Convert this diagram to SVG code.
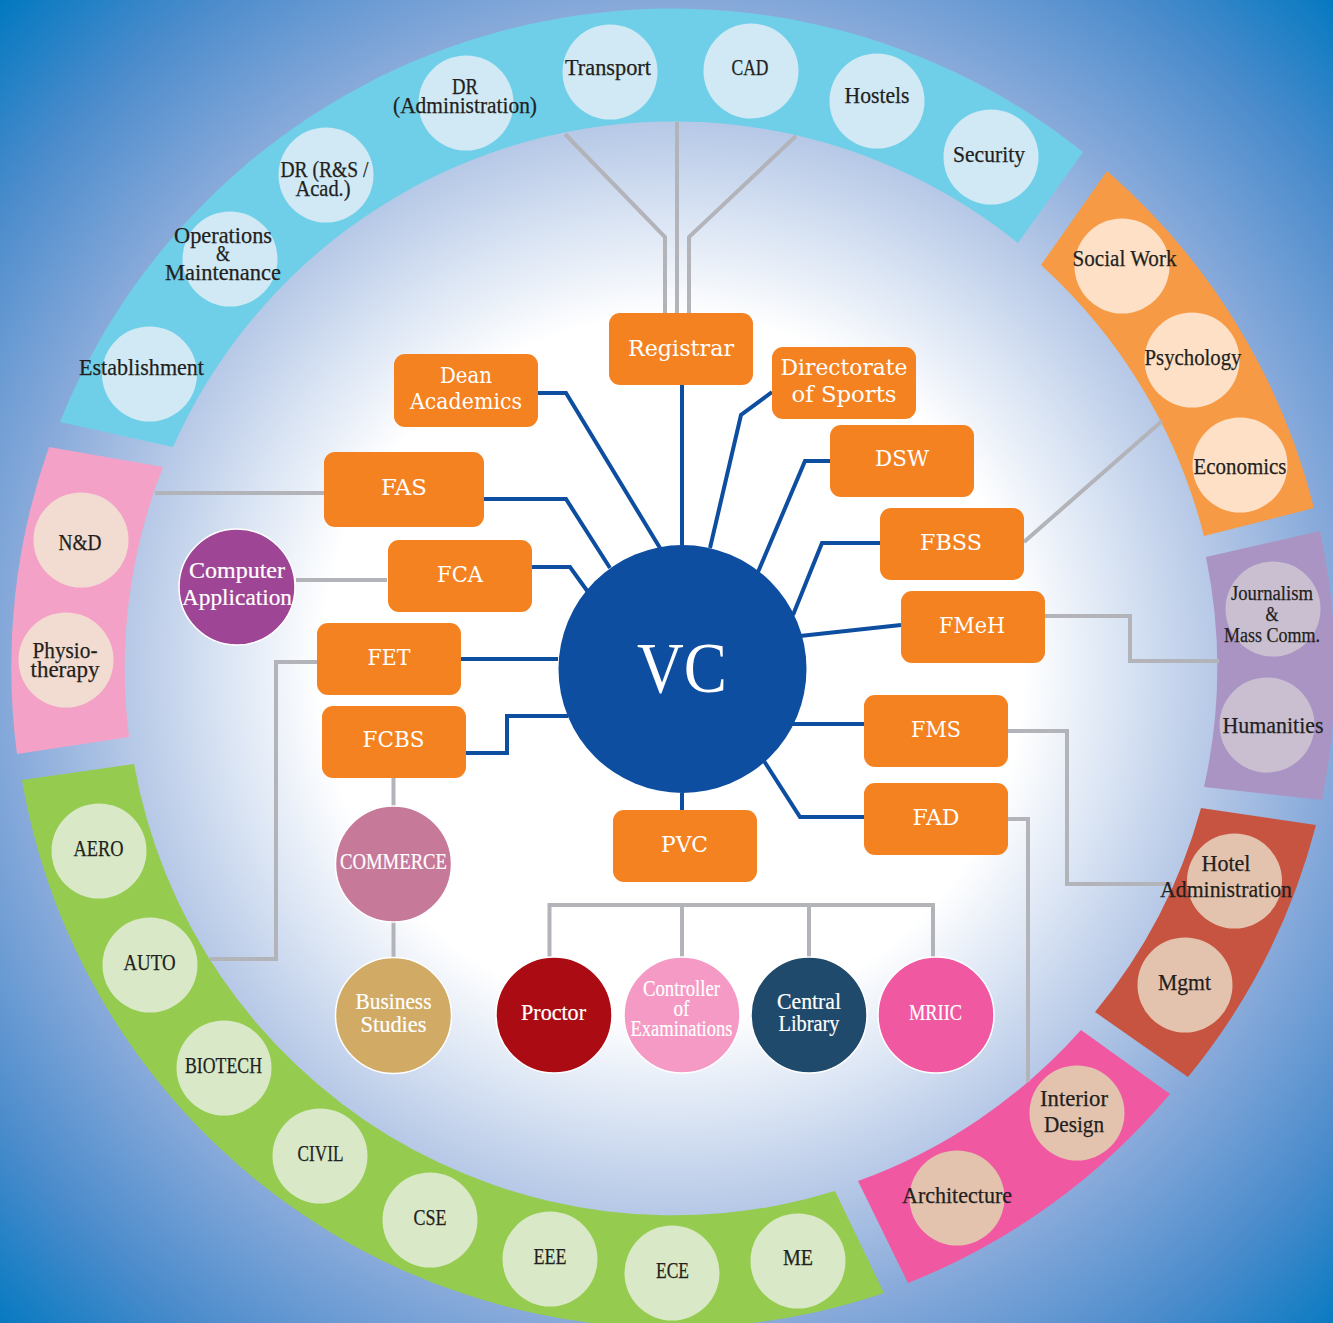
<svg xmlns="http://www.w3.org/2000/svg" width="1333" height="1323" viewBox="0 0 1333 1323">
<style>
text{font-family:"Liberation Serif","DejaVu Serif",serif;text-anchor:middle}
.d{font-size:23px;fill:#231f20;stroke:#231f20;stroke-width:.25}
.w{font-size:23px;fill:#fff;stroke:#fff;stroke-width:.2}
.b{font-family:"DejaVu Serif","Liberation Serif",serif;font-size:22px;fill:#fff}
.o{fill:#f58220}
.g{fill:none;stroke:#b3b3ba;stroke-width:4}
.l{fill:none;stroke:#0d4ea0;stroke-width:4}
.s{stroke:#fff;stroke-width:1.5}
.cb{fill:#d0e9f5}.co{fill:#fde0c6}.cp{fill:#c9bfd1}.cr{fill:#e3c3ae}.cg{fill:#d9e9c8}.cn{fill:#f2dcd1}
</style>
<defs>
<radialGradient id="bg" gradientUnits="userSpaceOnUse" cx="672" cy="668" r="950">
<stop offset="0" stop-color="#fff"/><stop offset="0.37" stop-color="#fff"/><stop offset="0.47" stop-color="#dbe5f4"/><stop offset="0.58" stop-color="#b4c7e6"/><stop offset="0.70" stop-color="#86a9da"/><stop offset="0.85" stop-color="#4c8ccc"/><stop offset="1" stop-color="#0078c0"/>
</radialGradient>
</defs>
<rect width="1333" height="1323" fill="url(#bg)"/>
<g id="bands">
<path fill="#70cfe8" d="M60 422A660 660 0 0 1 1083 152L1018 243A548 548 0 0 0 173 447Z"/>
<path fill="#f79a45" d="M1107 171A660 660 0 0 1 1314 508L1204 536A548 548 0 0 0 1041 265Z"/>
<path fill="#aa94c4" d="M1206 557L1320 531A660 660 0 0 1 1322 800L1204 787A548 548 0 0 0 1206 557Z"/>
<path fill="#c65441" d="M1201 808L1316 825A660 660 0 0 1 1188 1077L1095 1012A548 548 0 0 0 1201 808Z"/>
<path fill="#f058a2" d="M1081 1030L1170 1094A660 660 0 0 1 908 1283L858 1181A548 548 0 0 0 1081 1030Z"/>
<path fill="#95cb4e" d="M22 780L134 764A548 548 0 0 0 835 1191L884 1293A660 660 0 0 1 22 780Z"/>
<path fill="#f4a1c8" d="M49 447L163 467A548 548 0 0 0 129 737L17 754A660 660 0 0 1 49 447Z"/>
</g>
<g id="connectors">
<path class="g" d="M565 134L665 237V313M677 122V313M796 136L689 237V313M155 493H324M296 580H387M317 662H276V959H210M393.5 778V806M393.5 921V958M549.5 957V905H933V957M682 905V957M809 905V957M1024 542L1162 421M1045 616H1130V661H1219M1008 731H1067V884H1172M1008 819H1028V1082"/>
<path class="l" d="M538 393H566L660 548M682 385V545M772 392L741 415L710 548M830 461H805L758 572M880 543H822L793 615M901 625L800 636M864 724H790M864 817H800L764 761M682 793V810M466 753H507V716H568M461 659H558M532 567H570L588 592M484 499H566L610 568"/>
</g>
<g id="vc"><circle cx="682.500" cy="669" r="124" fill="#0d4ea0"/><text x="682" y="692" font-size="72" fill="#fff" textLength="90" lengthAdjust="spacingAndGlyphs">VC</text></g>
<g id="registrar"><rect class="o" x="609" y="313" width="144" height="72" rx="11"/><text class="b" x="681" y="356" textLength="106" lengthAdjust="spacingAndGlyphs">Registrar</text></g>
<g id="dean"><rect class="o" x="394" y="354" width="144" height="73" rx="11"/><text class="b" x="466" y="383" textLength="52" lengthAdjust="spacingAndGlyphs">Dean</text><text class="b" x="466" y="409" textLength="112" lengthAdjust="spacingAndGlyphs">Academics</text></g>
<g id="sports"><rect class="o" x="772" y="347" width="144" height="72" rx="11"/><text class="b" x="844" y="375" textLength="127" lengthAdjust="spacingAndGlyphs">Directorate</text><text class="b" x="844" y="402" textLength="105" lengthAdjust="spacingAndGlyphs">of Sports</text></g>
<g id="dsw"><rect class="o" x="830" y="425" width="144" height="72" rx="11"/><text class="b" x="902" y="466" textLength="54" lengthAdjust="spacingAndGlyphs">DSW</text></g>
<g id="fas"><rect class="o" x="324" y="452" width="160" height="75" rx="11"/><text class="b" x="404" y="495" textLength="46" lengthAdjust="spacingAndGlyphs">FAS</text></g>
<g id="fbss"><rect class="o" x="880" y="508" width="144" height="72" rx="11"/><text class="b" x="951" y="550" textLength="62" lengthAdjust="spacingAndGlyphs">FBSS</text></g>
<g id="fca"><rect class="o" x="388" y="540" width="144" height="72" rx="11"/><text class="b" x="460" y="582" textLength="46" lengthAdjust="spacingAndGlyphs">FCA</text></g>
<g id="fmeh"><rect class="o" x="901" y="591" width="144" height="72" rx="11"/><text class="b" x="972" y="633" textLength="66" lengthAdjust="spacingAndGlyphs">FMeH</text></g>
<g id="fet"><rect class="o" x="317" y="623" width="144" height="72" rx="11"/><text class="b" x="389" y="665" textLength="43" lengthAdjust="spacingAndGlyphs">FET</text></g>
<g id="fcbs"><rect class="o" x="322" y="706" width="144" height="72" rx="11"/><text class="b" x="393.500" y="747" textLength="62" lengthAdjust="spacingAndGlyphs">FCBS</text></g>
<g id="fms"><rect class="o" x="864" y="695" width="144" height="72" rx="11"/><text class="b" x="936" y="737" textLength="50" lengthAdjust="spacingAndGlyphs">FMS</text></g>
<g id="fad"><rect class="o" x="864" y="783" width="144" height="72" rx="11"/><text class="b" x="936" y="825" textLength="47" lengthAdjust="spacingAndGlyphs">FAD</text></g>
<g id="pvc"><rect class="o" x="613" y="810" width="144" height="72" rx="11"/><text class="b" x="684.500" y="852" textLength="47" lengthAdjust="spacingAndGlyphs">PVC</text></g>
<g id="computer"><circle class="s" cx="237" cy="587" r="58" fill="#9e4595"/><text class="w" x="237" y="578" textLength="96" lengthAdjust="spacingAndGlyphs">Computer</text><text class="w" x="237" y="605" textLength="110" lengthAdjust="spacingAndGlyphs">Application</text></g>
<g id="commerce"><circle class="s" cx="393.500" cy="864" r="58" fill="#c7799a"/><text class="w" x="393.500" y="869" textLength="107" lengthAdjust="spacingAndGlyphs">COMMERCE</text></g>
<g id="business"><circle class="s" cx="393.500" cy="1015.500" r="58" fill="#d1ab66"/><text class="w" x="393.500" y="1009" textLength="76" lengthAdjust="spacingAndGlyphs">Business</text><text class="w" x="393.500" y="1032" textLength="66" lengthAdjust="spacingAndGlyphs">Studies</text></g>
<g id="proctor"><circle class="s" cx="554" cy="1015" r="58" fill="#ab0c14"/><text class="w" x="553.500" y="1020" textLength="65" lengthAdjust="spacingAndGlyphs">Proctor</text></g>
<g id="controller"><circle class="s" cx="682" cy="1015" r="58" fill="#f59ac4"/><text class="w" x="681.500" y="996" textLength="77" lengthAdjust="spacingAndGlyphs">Controller</text><text class="w" x="681.500" y="1016" textLength="16" lengthAdjust="spacingAndGlyphs">of</text><text class="w" x="681.500" y="1036" textLength="102" lengthAdjust="spacingAndGlyphs">Examinations</text></g>
<g id="library"><circle class="s" cx="809" cy="1015" r="58" fill="#1f4a6b"/><text class="w" x="809" y="1009" textLength="64" lengthAdjust="spacingAndGlyphs">Central</text><text class="w" x="809" y="1031" textLength="61" lengthAdjust="spacingAndGlyphs">Library</text></g>
<g id="mriic"><circle class="s" cx="936" cy="1015" r="58" fill="#f058a2"/><text class="w" x="935.500" y="1020" textLength="53" lengthAdjust="spacingAndGlyphs">MRIIC</text></g>
<g id="establishment"><circle class="cb" cx="149.500" cy="374" r="47.500"/><text class="d" x="141.500" y="375" textLength="125" lengthAdjust="spacingAndGlyphs">Establishment</text></g>
<g id="operations"><circle class="cb" cx="230" cy="259" r="47.500"/><text class="d" x="223" y="243" textLength="98" lengthAdjust="spacingAndGlyphs">Operations</text><text class="d" x="223" y="261" textLength="14" lengthAdjust="spacingAndGlyphs">&amp;</text><text class="d" x="223" y="280" textLength="116" lengthAdjust="spacingAndGlyphs">Maintenance</text></g>
<g id="dr-rs"><circle class="cb" cx="326" cy="175" r="47.500"/><text class="d" x="324.500" y="177" textLength="88" lengthAdjust="spacingAndGlyphs">DR (R&amp;S /</text><text class="d" x="323" y="196" textLength="55" lengthAdjust="spacingAndGlyphs">Acad.)</text></g>
<g id="dr-admin"><circle class="cb" cx="466" cy="103" r="47.500"/><text class="d" x="465" y="94" textLength="26" lengthAdjust="spacingAndGlyphs">DR</text><text class="d" x="465" y="113" textLength="144" lengthAdjust="spacingAndGlyphs">(Administration)</text></g>
<g id="transport"><circle class="cb" cx="610" cy="72" r="47.500"/><text class="d" x="608" y="75" textLength="86" lengthAdjust="spacingAndGlyphs">Transport</text></g>
<g id="cad"><circle class="cb" cx="751" cy="71" r="47.500"/><text class="d" x="750" y="75" textLength="37" lengthAdjust="spacingAndGlyphs">CAD</text></g>
<g id="hostels"><circle class="cb" cx="877" cy="101" r="47.500"/><text class="d" x="877" y="103" textLength="65" lengthAdjust="spacingAndGlyphs">Hostels</text></g>
<g id="security"><circle class="cb" cx="991" cy="157" r="47.500"/><text class="d" x="989" y="162" textLength="72" lengthAdjust="spacingAndGlyphs">Security</text></g>
<g id="social-work"><circle class="co" cx="1122" cy="266" r="47.500"/><text class="d" x="1124.500" y="266" textLength="104" lengthAdjust="spacingAndGlyphs">Social Work</text></g>
<g id="psychology"><circle class="co" cx="1192" cy="360" r="47.500"/><text class="d" x="1193" y="365" textLength="97" lengthAdjust="spacingAndGlyphs">Psychology</text></g>
<g id="economics"><circle class="co" cx="1240" cy="465" r="47.500"/><text class="d" x="1240" y="474" textLength="93" lengthAdjust="spacingAndGlyphs">Economics</text></g>
<g id="journalism"><circle class="cp" cx="1273" cy="609" r="47.500"/><text class="d" x="1272" y="600" textLength="82" lengthAdjust="spacingAndGlyphs" style="font-size:20px">Journalism</text><text class="d" x="1272" y="621" textLength="13" lengthAdjust="spacingAndGlyphs" style="font-size:20px">&amp;</text><text class="d" x="1272" y="642" textLength="96" lengthAdjust="spacingAndGlyphs" style="font-size:20px">Mass Comm.</text></g>
<g id="humanities"><circle class="cp" cx="1267" cy="725" r="47.500"/><text class="d" x="1273" y="733" textLength="101" lengthAdjust="spacingAndGlyphs">Humanities</text></g>
<g id="hotel"><circle class="cr" cx="1234.500" cy="881" r="47.500"/><text class="d" x="1226" y="871" textLength="49" lengthAdjust="spacingAndGlyphs">Hotel</text><text class="d" x="1226" y="897" textLength="132" lengthAdjust="spacingAndGlyphs">Administration</text></g>
<g id="mgmt"><circle class="cr" cx="1185" cy="985" r="47.500"/><text class="d" x="1184.500" y="990" textLength="53" lengthAdjust="spacingAndGlyphs">Mgmt</text></g>
<g id="interior"><circle class="cr" cx="1077" cy="1113" r="47.500"/><text class="d" x="1074" y="1106" textLength="68" lengthAdjust="spacingAndGlyphs">Interior</text><text class="d" x="1074" y="1132" textLength="60" lengthAdjust="spacingAndGlyphs">Design</text></g>
<g id="architecture"><circle class="cr" cx="957" cy="1198" r="47.500"/><text class="d" x="957" y="1203" textLength="110" lengthAdjust="spacingAndGlyphs">Architecture</text></g>
<g id="aero"><circle class="cg" cx="99" cy="851" r="47.500"/><text class="d" x="98.500" y="856" textLength="50" lengthAdjust="spacingAndGlyphs">AERO</text></g>
<g id="auto"><circle class="cg" cx="150" cy="965" r="47.500"/><text class="d" x="149.500" y="970" textLength="52" lengthAdjust="spacingAndGlyphs">AUTO</text></g>
<g id="biotech"><circle class="cg" cx="224" cy="1068" r="47.500"/><text class="d" x="223.500" y="1073" textLength="77" lengthAdjust="spacingAndGlyphs">BIOTECH</text></g>
<g id="civil"><circle class="cg" cx="320" cy="1156" r="47.500"/><text class="d" x="320.500" y="1161" textLength="46" lengthAdjust="spacingAndGlyphs">CIVIL</text></g>
<g id="cse"><circle class="cg" cx="430" cy="1220" r="47.500"/><text class="d" x="430" y="1225" textLength="33" lengthAdjust="spacingAndGlyphs">CSE</text></g>
<g id="eee"><circle class="cg" cx="550" cy="1259" r="47.500"/><text class="d" x="550" y="1264" textLength="33" lengthAdjust="spacingAndGlyphs">EEE</text></g>
<g id="ece"><circle class="cg" cx="672" cy="1273" r="47.500"/><text class="d" x="672.500" y="1278" textLength="33" lengthAdjust="spacingAndGlyphs">ECE</text></g>
<g id="me"><circle class="cg" cx="798" cy="1261" r="47.500"/><text class="d" x="798" y="1265" textLength="30" lengthAdjust="spacingAndGlyphs">ME</text></g>
<g id="nd"><circle class="cn" cx="81" cy="540" r="47.500"/><text class="d" x="80" y="550" textLength="43" lengthAdjust="spacingAndGlyphs">N&amp;D</text></g>
<g id="physio"><circle class="cn" cx="66" cy="660" r="47.500"/><text class="d" x="65" y="658" textLength="65" lengthAdjust="spacingAndGlyphs">Physio-</text><text class="d" x="65" y="677" textLength="69" lengthAdjust="spacingAndGlyphs">therapy</text></g>
</svg>
